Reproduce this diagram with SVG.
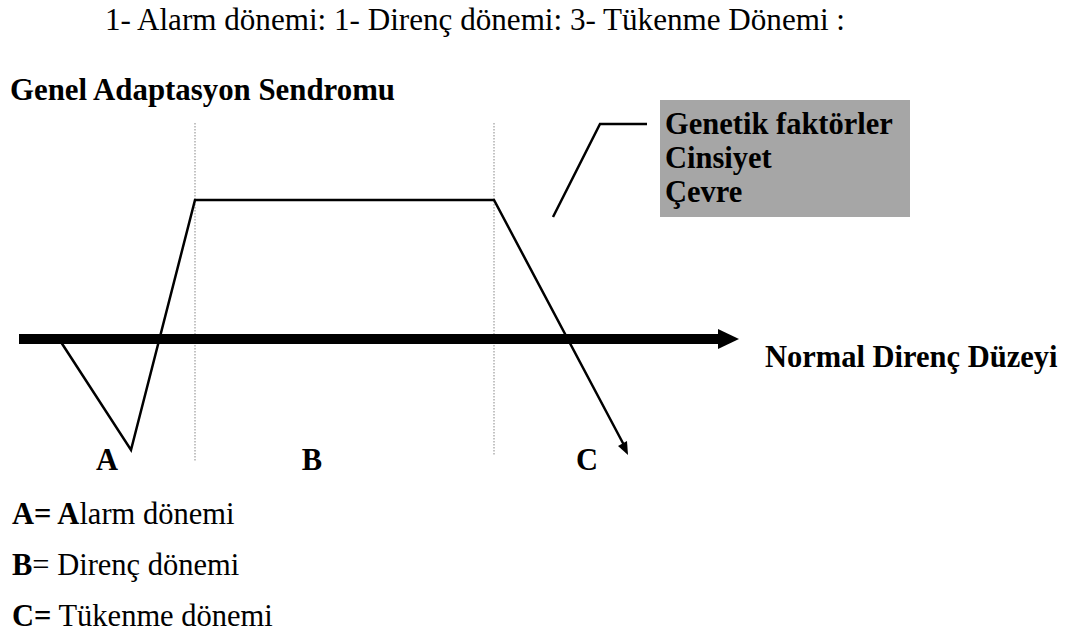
<svg xmlns="http://www.w3.org/2000/svg" width="1075" height="634" viewBox="0 0 1075 634">
<defs>
<style>
.t{fill:#000;font-size:30.5px}
.b{font-weight:bold}
.curve{fill:none;stroke:#000;stroke-width:2.5;stroke-linejoin:miter}
.dot{stroke:#b0b0b0;stroke-width:1.5;stroke-dasharray:1.5 1.5}
</style>
</defs>
<rect width="1075" height="634" fill="#fff"/>
<g font-family="Liberation Serif, Tinos, DejaVu Serif, serif">
<text class="t" x="105" y="30" textLength="740" lengthAdjust="spacingAndGlyphs">1-  Alarm dönemi: 1- Direnç dönemi: 3- Tükenme Dönemi :</text>
<text class="t b" x="10" y="100" textLength="385" lengthAdjust="spacingAndGlyphs">Genel Adaptasyon Sendromu</text>

<g id="guides">
<line class="dot" x1="195" y1="123" x2="195" y2="462"/>
<line class="dot" x1="494" y1="123" x2="494" y2="455"/>
</g>

<g id="factors">
<rect x="660" y="100" width="250" height="117" fill="#a6a6a6"/>
<text class="t b" x="665" y="134">Genetik faktörler</text>
<text class="t b" x="665" y="168">Cinsiyet</text>
<text class="t b" x="665" y="202">Çevre</text>
</g>

<g id="connectors">
<path class="curve" d="M553,217 L600,124 L647,124"/>
<rect x="19" y="334" width="700" height="10" fill="#000"/>
<path d="M718,329 L739,339 L718,349 Z" fill="#000"/>
<path class="curve" d="M59,339 L131,450 L195,200 L494,200 L625,447"/>
<path d="M618,446 L628,455 L627,441 Z" fill="#000"/>
</g>

<g id="axis-label">
<text class="t b" x="765" y="367">Normal Direnç Düzeyi</text>
</g>

<g id="phase-labels">
<text class="t b" x="107" y="470" text-anchor="middle">A</text>
<text class="t b" x="312" y="470" text-anchor="middle">B</text>
<text class="t b" x="587" y="470" text-anchor="middle">C</text>
</g>

<g id="legend">
<text class="t" x="12" y="524"><tspan class="b">A= A</tspan>larm dönemi</text>
<text class="t" x="12" y="575"><tspan class="b">B</tspan>= Direnç dönemi</text>
<text class="t" x="12" y="626"><tspan class="b">C=</tspan> Tükenme dönemi</text>
</g>
</g>
</svg>
